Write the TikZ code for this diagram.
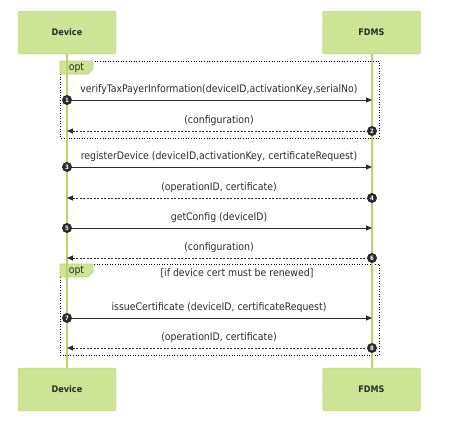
\documentclass[tikz,border=0pt]{standalone}
\usepackage{fontspec}
\setmainfont{DejaVu Sans Condensed}
\usetikzlibrary{arrows.meta}

\definecolor{boxgreen}{HTML}{CDE396}
\definecolor{edgegreen}{HTML}{B9D47C}
\definecolor{lifegreen}{HTML}{B6D66C}
\definecolor{ink}{HTML}{2B2B2B}

\begin{document}
\begin{tikzpicture}[x=1pt, y=-1pt, font=\fontsize{10.4}{11}\selectfont, text=ink,
    actor/.style={rectangle, rounded corners=2pt, fill=boxgreen, draw=edgegreen,
        minimum width=98pt, minimum height=43pt, font=\fontsize{9}{10}\selectfont\bfseries},
    lifeline/.style={lifegreen, line width=2pt},
    num/.style={circle, fill=ink, text=white, inner sep=0pt, minimum size=10pt,
        font=\fontsize{6}{6}\selectfont\bfseries},
    call/.style={ink, line width=0.8pt, -{Triangle[length=6pt,width=5pt]}},
    reply/.style={ink, line width=0.8pt, dash pattern=on 2pt off 1.5pt,
        -{Triangle[length=6pt,width=5pt]}},
    frame/.style={black, line width=0.6pt, dotted},
    tag/.style={fill=boxgreen, draw=edgegreen, line width=0.6pt}]
    \useasboundingbox (0,0) rectangle (475,423);

    \node [actor] (devtop) at (67,32.5) {Device};
    \node [actor] (fdmstop) at (371.5,32.5) {FDMS};
    \node [actor] (devbot) at (67,389.5) {Device};
    \node [actor] (fdmsbot) at (371.5,389.5) {FDMS};

    % opt frames
    \draw [frame] (60,61) rectangle (379,138);
    \draw [tag] (60,61) -- (93,61) -- (93,69) -- (88,74) -- (60,74) -- cycle;
    \node (opt1) at (76.5,67.5) {opt};
    \draw [frame] (60,264) rectangle (379,355);
    \draw [tag] (60,264) -- (93,264) -- (93,272) -- (88,277) -- (60,277) -- cycle;
    \node (opt2) at (76.5,270.5) {opt};
    \node (guard) at (237,273) {[if device cert must be renewed]};

    \draw [lifeline] (devtop) -- (devbot);
    \draw [lifeline] (fdmstop) -- (fdmsbot);

    % calls
    \foreach \y/\n/\txt in {100/1/{verifyTaxPayerInformation(deviceID,activationKey,serialNo)},
                            167/3/{registerDevice (deviceID,activationKey, certificateRequest)},
                            228/5/{getConfig (deviceID)},
                            318/7/{issueCertificate (deviceID, certificateRequest)}} {
        \coordinate (f\n) at (372,\y);
        \draw [call] (67,\y) -- (f\n);
        \node [num] (m\n) at (67,\y) {\n};
        \node (t\n) at (219,\y-10) {\txt};
    }
    % replies
    \foreach \y/\n/\txt in {131/2/{(configuration)},
                            198/4/{(operationID, certificate)},
                            258/6/{(configuration)},
                            348/8/{(operationID, certificate)}} {
        \coordinate (d\n) at (67,\y);
        \draw [reply] (372,\y) -- (d\n);
        \node [num] (m\n) at (372,\y) {\n};
        \node (t\n) at (219,\y-10) {\txt};
    }
\end{tikzpicture}
\end{document}
